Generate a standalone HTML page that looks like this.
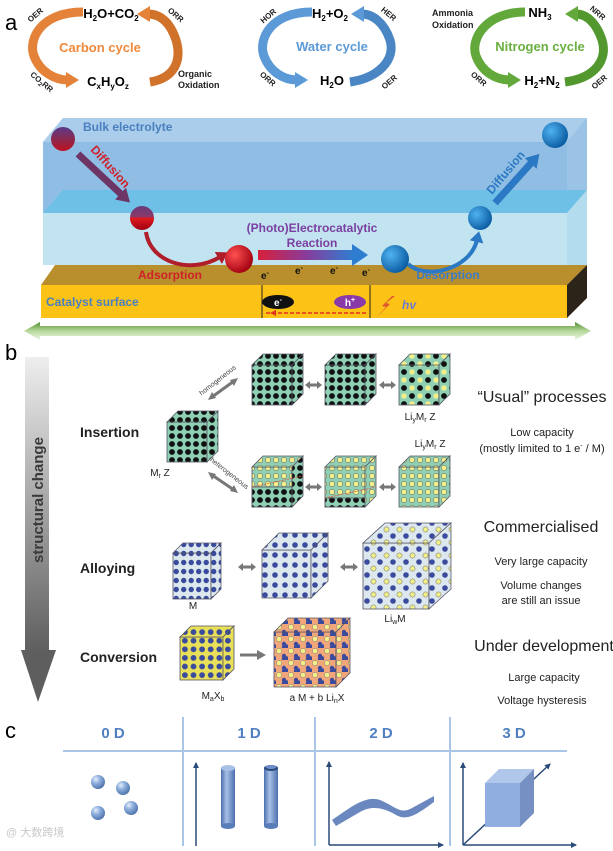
<!DOCTYPE html>
<html><head><meta charset="utf-8"><style>
html,body{margin:0;padding:0;background:#fff;}
svg{display:block;font-family:"Liberation Sans",Arial,sans-serif;}
</style></head><body>
<svg width="613" height="851" viewBox="0 0 613 851" xmlns="http://www.w3.org/2000/svg">
<defs>
<pattern id="dk" width="8" height="8" patternUnits="userSpaceOnUse"><rect width="8" height="8" fill="#8fd0b4"/><circle cx="4" cy="4" r="2.9" fill="#111"/></pattern>
<pattern id="yl" width="8" height="8" patternUnits="userSpaceOnUse"><rect width="8" height="8" fill="#8fd0b4"/><circle cx="4" cy="4" r="2.7" fill="#f3f08a" stroke="#556" stroke-width="0.5"/></pattern>
<pattern id="mx" width="16" height="16" patternUnits="userSpaceOnUse"><rect width="16" height="16" fill="#8fd0b4"/><circle cx="4" cy="4" r="2.9" fill="#111"/><circle cx="12" cy="4" r="2.7" fill="#f3f08a"/><circle cx="4" cy="12" r="2.7" fill="#f3f08a"/><circle cx="12" cy="12" r="2.9" fill="#111"/></pattern>
<pattern id="bl" width="7.5" height="9" patternUnits="userSpaceOnUse"><rect width="7.5" height="9" fill="#dde8ee"/><circle cx="3.7" cy="4.5" r="2.7" fill="#3a4a9c"/></pattern>
<pattern id="bl2" width="10" height="10" patternUnits="userSpaceOnUse"><rect width="10" height="10" fill="#dde8ee"/><circle cx="5" cy="5" r="2.8" fill="#3a4a9c"/></pattern>
<pattern id="lw" width="13" height="13" patternUnits="userSpaceOnUse"><rect width="13" height="13" fill="#dde8ee"/><circle cx="3" cy="3" r="2.8" fill="#3a4a9c"/><circle cx="9.5" cy="9.5" r="2.6" fill="#f3f08a" stroke="#666" stroke-width="0.5"/></pattern>
<pattern id="yw" width="8.6" height="8.6" patternUnits="userSpaceOnUse"><rect width="8.6" height="8.6" fill="#e9e05a"/><circle cx="4.3" cy="4.3" r="2.9" fill="#3a4a9c"/></pattern>
<pattern id="or" width="12" height="12" patternUnits="userSpaceOnUse"><rect width="12" height="12" fill="#f2a77a"/><circle cx="3" cy="3" r="2.6" fill="#f3f08a" stroke="#777" stroke-width="0.5"/><circle cx="8" cy="8" r="2.2" fill="#3a4a9c"/><circle cx="10.5" cy="10.5" r="2.2" fill="#3a4a9c"/><circle cx="8" cy="11" r="2.2" fill="#3a4a9c"/></pattern>
<linearGradient id="gv" x1="0" y1="0" x2="0" y2="1"><stop offset="0" stop-color="#eeeeee"/><stop offset="1" stop-color="#5e5e5e"/></linearGradient>
<linearGradient id="gg" x1="0" y1="0" x2="0" y2="1"><stop offset="0" stop-color="#4f8f2e"/><stop offset="0.5" stop-color="#b8d89c"/><stop offset="1" stop-color="#eef6e6"/></linearGradient>
<linearGradient id="rx" x1="0" y1="0" x2="1" y2="0"><stop offset="0" stop-color="#d8203a"/><stop offset="0.5" stop-color="#8a3b9a"/><stop offset="1" stop-color="#2e7dd0"/></linearGradient>
<radialGradient id="sr" cx="0.35" cy="0.35" r="0.7"><stop offset="0" stop-color="#ff5050"/><stop offset="1" stop-color="#a00010"/></radialGradient>
<radialGradient id="sb" cx="0.35" cy="0.35" r="0.7"><stop offset="0" stop-color="#4fb2f0"/><stop offset="1" stop-color="#0a5aa0"/></radialGradient>
<linearGradient id="sp" x1="0" y1="0" x2="0" y2="1"><stop offset="0" stop-color="#5a3a8a"/><stop offset="0.5" stop-color="#8a2a50"/><stop offset="1" stop-color="#c01020"/></linearGradient>
<linearGradient id="sm" x1="0" y1="0" x2="0" y2="1"><stop offset="0" stop-color="#6a3a7a"/><stop offset="0.45" stop-color="#8a3a6a"/><stop offset="0.5" stop-color="#e01a20"/><stop offset="1" stop-color="#a00010"/></linearGradient>
<radialGradient id="s0" cx="0.35" cy="0.3" r="0.75"><stop offset="0" stop-color="#e6eefb"/><stop offset="0.4" stop-color="#8fb0de"/><stop offset="1" stop-color="#4a6fa8"/></radialGradient>
<linearGradient id="cy" x1="0" y1="0" x2="1" y2="0"><stop offset="0" stop-color="#4c6fae"/><stop offset="0.4" stop-color="#a8c0e6"/><stop offset="1" stop-color="#4c6fae"/></linearGradient>
<marker id="ao" markerWidth="14" markerHeight="16" refX="2" refY="8" orient="auto" markerUnits="userSpaceOnUse"><path d="M0,0 L13,8 L0,16z" fill="#e4823a"/></marker>
<marker id="ab" markerWidth="14" markerHeight="16" refX="2" refY="8" orient="auto" markerUnits="userSpaceOnUse"><path d="M0,0 L13,8 L0,16z" fill="#5b9ad6"/></marker>
<marker id="ag" markerWidth="14" markerHeight="16" refX="2" refY="8" orient="auto" markerUnits="userSpaceOnUse"><path d="M0,0 L13,8 L0,16z" fill="#62a83a"/></marker>
<marker id="ad" markerWidth="12" markerHeight="14" refX="2" refY="7" orient="auto" markerUnits="userSpaceOnUse"><path d="M0,0 L11,7 L0,14z" fill="#b01e2a"/></marker>
<marker id="ap" markerWidth="14" markerHeight="16" refX="2" refY="8" orient="auto" markerUnits="userSpaceOnUse"><path d="M0,0 L13,8 L0,16z" fill="#6c3566"/></marker>
<marker id="ae" markerWidth="12" markerHeight="14" refX="2" refY="7" orient="auto" markerUnits="userSpaceOnUse"><path d="M0,0 L11,7 L0,14z" fill="#2b78c4"/></marker>
<marker id="ae2" markerWidth="14" markerHeight="16" refX="2" refY="8" orient="auto" markerUnits="userSpaceOnUse"><path d="M0,0 L13,8 L0,16z" fill="#2b78c4"/></marker>
<marker id="an" markerWidth="6" markerHeight="6" refX="5" refY="3" orient="auto" markerUnits="userSpaceOnUse"><path d="M0,0 L6,3 L0,6z" fill="#2a4a7a"/></marker>
</defs>
<rect width="613" height="851" fill="#fff"/>

<!-- ===== a: cycles ===== -->
<text x="5" y="30" font-size="22">a</text>
<g fill="none" stroke-width="9">
<path d="M83,12 C40,12 28,40 34,56 C40,72 55,80 68,80" stroke="#e4823a" marker-end="url(#ao)"/>
<path d="M150,82 C175,78 182,60 176,40 C170,22 160,14 148,14" stroke="#d0722a" marker-end="url(#ao)"/>
<path d="M312,12 C270,12 258,40 264,56 C270,72 284,80 297,80" stroke="#5b9ad6" marker-end="url(#ab)"/>
<path d="M350,82 C378,78 396,60 390,40 C384,22 372,14 362,14" stroke="#4a86c4" marker-end="url(#ab)"/>
<path d="M525,12 C485,12 470,40 476,56 C482,72 496,80 510,80" stroke="#62a83a" marker-end="url(#ag)"/>
<path d="M565,82 C595,78 608,60 602,40 C596,22 586,14 576,14" stroke="#52982e" marker-end="url(#ag)"/>
</g>
<g font-weight="bold" text-anchor="middle">
<text x="100" y="52" font-size="13" fill="#f08a3c">Carbon cycle</text>
<text x="332" y="51" font-size="13" fill="#5b9ad6">Water cycle</text>
<text x="540" y="51" font-size="13" fill="#6aaf3f">Nitrogen cycle</text>
<text x="111" y="18" font-size="13">H<tspan font-size="8" dy="3">2</tspan><tspan dy="-3">O+CO</tspan><tspan font-size="8" dy="3">2</tspan></text>
<text x="108" y="86" font-size="13">C<tspan font-size="8" dy="3">x</tspan><tspan dy="-3">H</tspan><tspan font-size="8" dy="3">y</tspan><tspan dy="-3">O</tspan><tspan font-size="8" dy="3">z</tspan></text>
<text x="330" y="18" font-size="13">H<tspan font-size="8" dy="3">2</tspan><tspan dy="-3">+O</tspan><tspan font-size="8" dy="3">2</tspan></text>
<text x="332" y="85" font-size="13">H<tspan font-size="8" dy="3">2</tspan><tspan dy="-3">O</tspan></text>
<text x="540" y="17" font-size="13">NH<tspan font-size="8" dy="3">3</tspan></text>
<text x="542" y="85" font-size="13">H<tspan font-size="8" dy="3">2</tspan><tspan dy="-3">+N</tspan><tspan font-size="8" dy="3">2</tspan></text>
</g>
<g font-size="8" font-weight="bold" text-anchor="middle" fill="#222">
<text transform="translate(37,17) rotate(-40)">OER</text>
<text transform="translate(174,17) rotate(40)">ORR</text>
<text transform="translate(40,84) rotate(40)">CO<tspan font-size="6" dy="2">2</tspan><tspan dy="-2">RR</tspan></text>
<text transform="translate(270,18) rotate(-40)">HOR</text>
<text transform="translate(387,16) rotate(40)">HER</text>
<text transform="translate(266,81) rotate(40)">ORR</text>
<text transform="translate(391,84) rotate(-40)">OER</text>
<text transform="translate(596,15) rotate(40)">NRR</text>
<text transform="translate(477,81) rotate(40)">ORR</text>
<text transform="translate(601,84) rotate(-40)">OER</text>
</g>
<g font-size="9" font-weight="bold" fill="#222">
<text x="178" y="77">Organic</text><text x="178" y="88">Oxidation</text>
<text x="432" y="16">Ammonia</text><text x="432" y="28">Oxidation</text>
</g>

<!-- ===== a: slab ===== -->
<polygon points="43,142 63,118 587,118 587,190 567,213 43,213" fill="#8fbde3"/>
<polygon points="43,142 63,118 587,118 567,142" fill="#a9cdea"/>
<polygon points="567,142 587,118 587,190 567,213" fill="#9ac3e6"/>
<polygon points="43,213 63,190 587,190 567,213" fill="#6ec0e6"/>
<rect x="43" y="213" width="524" height="52" fill="#c2e4f1"/>
<polygon points="567,213 587,190 587,265 567,285" fill="#b3dcee"/>
<polygon points="41,285 55,265 587,265 567,285" fill="#b88f2c"/>
<rect x="41" y="285" width="526" height="33" fill="#fcc316"/>
<polygon points="567,285 587,265 587,298 567,318" fill="#2c2418"/>
<line x1="262" y1="285" x2="262" y2="318" stroke="#222" stroke-width="1"/>
<line x1="370" y1="285" x2="370" y2="318" stroke="#222" stroke-width="1"/>
<line x1="266" y1="313" x2="368" y2="313" stroke="#e03020" stroke-width="1.5" stroke-dasharray="4,2"/>
<path d="M270,313 l6,-3 v6z" fill="#e03020"/>
<ellipse cx="278" cy="302" rx="16" ry="7" fill="#111"/>
<text x="278" y="306" font-size="10" font-weight="bold" fill="#fff" text-anchor="middle">e<tspan font-size="7" dy="-4">-</tspan></text>
<ellipse cx="350" cy="302" rx="16" ry="7" fill="#8a3aa8"/>
<text x="350" y="306" font-size="10" font-weight="bold" fill="#fff" text-anchor="middle">h<tspan font-size="7" dy="-4">+</tspan></text>
<polygon points="392,296 382,306 386,307 376,318 390,304 386,303 395,296" fill="#e05a30"/>
<text x="402" y="309" font-size="12" font-style="italic" font-weight="bold" fill="#6a7ad0">hv</text>
<text x="46" y="306" font-size="12" font-weight="bold" fill="#4a7fc0">Catalyst surface</text>

<!-- arrows -->
<line x1="78" y1="154" x2="122" y2="195" stroke="#6c3566" stroke-width="7" marker-end="url(#ap)"/>
<line x1="495" y1="203" x2="532" y2="162" stroke="#2b78c4" stroke-width="7" marker-end="url(#ae2)"/>
<rect x="258" y="250" width="95" height="10" fill="url(#rx)"/>
<path d="M352,244 L368,255 L352,266z" fill="#2e7dd0"/>
<path d="M146,232 C150,262 190,275 220,257" fill="none" stroke="#b01e2a" stroke-width="4" marker-end="url(#ad)"/>
<path d="M408,264 C425,280 470,270 477,240" fill="none" stroke="#2b78c4" stroke-width="4" marker-end="url(#ae)"/>

<circle cx="63" cy="139" r="12" fill="url(#sp)"/>
<circle cx="142" cy="218" r="12" fill="url(#sm)"/>
<circle cx="239" cy="259" r="14" fill="url(#sr)"/>
<circle cx="395" cy="259" r="14" fill="url(#sb)"/>
<circle cx="480" cy="218" r="12" fill="url(#sb)"/>
<circle cx="555" cy="135" r="13" fill="url(#sb)"/>

<g font-weight="bold">
<text x="83" y="131" font-size="12" fill="#4a7fc0">Bulk electrolyte</text>
<text transform="translate(90,150) rotate(48)" font-size="12" fill="#d0202a">Diffusion</text>
<text transform="translate(492,195) rotate(-50)" font-size="12" fill="#2b78c4">Diffusion</text>
<text x="312" y="232" font-size="12" fill="#7a3fa0" text-anchor="middle">(Photo)Electrocatalytic</text>
<text x="312" y="247" font-size="12" fill="#7a3fa0" text-anchor="middle">Reaction</text>
<text x="170" y="279" font-size="12" fill="#d0202a" text-anchor="middle">Adsorption</text>
<text x="448" y="279" font-size="12" fill="#3b7cc8" text-anchor="middle">Desorption</text>
<g font-size="10" fill="#111" text-anchor="middle">
<text x="265" y="279">e<tspan font-size="7" dy="-4">-</tspan></text>
<text x="299" y="274">e<tspan font-size="7" dy="-4">-</tspan></text>
<text x="334" y="274">e<tspan font-size="7" dy="-4">-</tspan></text>
<text x="366" y="276">e<tspan font-size="7" dy="-4">-</tspan></text>
</g>
</g>

<!-- green double arrow -->
<polygon points="24,331 40,322 40,326 575,326 575,322 591,331 575,340 575,336 40,336 40,340" fill="url(#gg)"/>

<!-- ===== b ===== -->
<text x="5" y="360" font-size="22">b</text>
<rect x="25" y="357" width="24" height="295" fill="url(#gv)"/>
<polygon points="21,650 56,650 38,702" fill="#5e5e5e"/>
<text transform="translate(43,500) rotate(-90)" font-size="15" font-weight="bold" fill="#3a3a3a" text-anchor="middle">structural change</text>

<g font-size="14" font-weight="bold" fill="#222">
<text x="80" y="437">Insertion</text>
<text x="80" y="573">Alloying</text>
<text x="80" y="662">Conversion</text>
</g>

<g stroke="#556" stroke-width="0.8">
<rect x="167" y="422" width="40" height="40" fill="url(#dk)"/>
<polygon points="167,422 178,411 218,411 207,422" fill="url(#dk)"/>
<polygon points="207,422 218,411 218,451 207,462" fill="url(#dk)"/>
<rect x="252" y="365" width="40" height="40" fill="url(#dk)"/>
<polygon points="252,365 263,354 303,354 292,365" fill="url(#dk)"/>
<polygon points="292,365 303,354 303,394 292,405" fill="url(#dk)"/>
<rect x="325" y="365" width="40" height="40" fill="url(#dk)"/>
<polygon points="325,365 336,354 376,354 365,365" fill="url(#dk)"/>
<polygon points="365,365 376,354 376,394 365,405" fill="url(#dk)"/>
<rect x="399" y="365" width="40" height="40" fill="url(#mx)"/>
<polygon points="399,365 410,354 450,354 439,365" fill="url(#mx)"/>
<polygon points="439,365 450,354 450,394 439,405" fill="url(#mx)"/>
<rect x="252" y="467" width="40" height="40" fill="url(#yl)"/>
<rect x="252" y="487" width="40" height="20" fill="url(#dk)"/>
<polygon points="252,467 263,456 303,456 292,467" fill="url(#yl)"/>
<polygon points="292,467 303,456 303,496 292,507" fill="url(#dk)"/>
<rect x="325" y="467" width="40" height="40" fill="url(#yl)"/>
<rect x="325" y="498" width="40" height="9" fill="url(#dk)"/>
<polygon points="325,467 336,456 376,456 365,467" fill="url(#yl)"/>
<polygon points="365,467 376,456 376,496 365,507" fill="url(#yl)"/>
<rect x="399" y="467" width="40" height="40" fill="url(#yl)"/>
<polygon points="399,467 410,456 450,456 439,467" fill="url(#yl)"/>
<polygon points="439,467 450,456 450,496 439,507" fill="url(#yl)"/>
<rect x="173" y="553" width="38" height="46" fill="url(#bl)"/>
<polygon points="173,553 183,543 221,543 211,553" fill="url(#bl)"/>
<polygon points="211,553 221,543 221,589 211,599" fill="url(#bl)"/>
<rect x="262" y="550" width="49" height="48" fill="url(#bl2)"/>
<polygon points="262,550 279,533 328,533 311,550" fill="url(#bl2)"/>
<polygon points="311,550 328,533 328,581 311,598" fill="url(#bl2)"/>
<rect x="363" y="543" width="66" height="66" fill="url(#lw)"/>
<polygon points="363,543 385,523 451,523 429,543" fill="url(#lw)"/>
<polygon points="429,543 451,523 451,589 429,609" fill="url(#lw)"/>
<rect x="180" y="637" width="43" height="43" fill="url(#yw)"/>
<polygon points="180,637 191,626 234,626 223,637" fill="url(#yw)"/>
<polygon points="223,637 234,626 234,669 223,680" fill="url(#yw)"/>
<rect x="274" y="632" width="62" height="55" fill="url(#or)"/>
<polygon points="274,632 288,618 350,618 336,632" fill="url(#or)"/>
<polygon points="336,632 350,618 350,673 336,687" fill="url(#or)"/>
</g>
<line x1="252" y1="487" x2="303" y2="476" stroke="#e05a3a" stroke-width="0.8" stroke-dasharray="2,1"/>
<line x1="325" y1="498" x2="376" y2="487" stroke="#e05a3a" stroke-width="0.8" stroke-dasharray="2,1"/>

<g stroke="#777" stroke-width="3" fill="none">
<line x1="212" y1="397" x2="234" y2="381"/>
<line x1="212" y1="475" x2="234" y2="490"/>
<line x1="309" y1="385" x2="318" y2="385"/><line x1="383" y1="385" x2="392" y2="385"/>
<line x1="309" y1="487" x2="318" y2="487"/><line x1="383" y1="487" x2="392" y2="487"/>
<line x1="242" y1="567" x2="252" y2="567"/><line x1="344" y1="567" x2="354" y2="567"/>
<line x1="240" y1="655" x2="258" y2="655"/>
</g>
<g fill="#777">
<polygon points="208,400 212,392 216,398"/><polygon points="238,378 230,380 234,386"/>
<polygon points="208,472 216,474 212,480"/><polygon points="238,493 234,485 230,491"/>
<polygon points="305,385 310,381 310,389"/><polygon points="322,385 317,381 317,389"/>
<polygon points="379,385 384,381 384,389"/><polygon points="396,385 391,381 391,389"/>
<polygon points="305,487 310,483 310,491"/><polygon points="322,487 317,483 317,491"/>
<polygon points="379,487 384,483 384,491"/><polygon points="396,487 391,483 391,491"/>
<polygon points="238,567 243,563 243,571"/><polygon points="256,567 251,563 251,571"/>
<polygon points="340,567 345,563 345,571"/><polygon points="358,567 353,563 353,571"/>
<polygon points="266,655 257,650 257,660"/>
</g>
<g font-size="7" fill="#444" text-anchor="middle">
<text transform="translate(219,382) rotate(-38)">homogeneous</text>
<text transform="translate(228,475) rotate(38)">heterogeneous</text>
</g>
<g font-size="10" fill="#222" text-anchor="middle">
<text x="420" y="420">Li<tspan font-size="7" dy="2">y</tspan><tspan dy="-2">M</tspan><tspan font-size="7" dy="2">r</tspan><tspan dy="-2"> Z</tspan></text>
<text x="430" y="447">Li<tspan font-size="7" dy="2">y</tspan><tspan dy="-2">M</tspan><tspan font-size="7" dy="2">r</tspan><tspan dy="-2"> Z</tspan></text>
<text x="160" y="476">M<tspan font-size="7" dy="2">r</tspan><tspan dy="-2"> Z</tspan></text>
<text x="193" y="609">M</text>
<text x="395" y="622">Li<tspan font-size="7" dy="2">w</tspan><tspan dy="-2">M</tspan></text>
<text x="213" y="699">M<tspan font-size="7" dy="2">a</tspan><tspan dy="-2">X</tspan><tspan font-size="7" dy="2">b</tspan></text>
<text x="317" y="701">a M + b Li<tspan font-size="7" dy="2">n</tspan><tspan dy="-2">X</tspan></text>
</g>
<g fill="#222" text-anchor="middle">
<text x="542" y="402" font-size="16">“Usual” processes</text>
<text x="542" y="436" font-size="11">Low capacity</text>
<text x="542" y="452" font-size="11">(mostly limited to 1 e<tspan font-size="7" dy="-4">-</tspan><tspan dy="4"> / M)</tspan></text>
<text x="541" y="532" font-size="16">Commercialised</text>
<text x="541" y="565" font-size="11">Very large capacity</text>
<text x="541" y="589" font-size="11">Volume changes</text>
<text x="541" y="604" font-size="11">are still an issue</text>
<text x="544" y="651" font-size="16">Under development</text>
<text x="544" y="681" font-size="11">Large capacity</text>
<text x="542" y="704" font-size="11">Voltage hysteresis</text>
</g>

<!-- ===== c ===== -->
<text x="5" y="738" font-size="22">c</text>
<g stroke="#a9c6e6" stroke-width="2">
<line x1="63" y1="751" x2="567" y2="751"/>
<line x1="183" y1="717" x2="183" y2="846"/>
<line x1="315" y1="717" x2="315" y2="846"/>
<line x1="450" y1="717" x2="450" y2="846"/>
</g>
<g font-size="15" font-weight="bold" fill="#4f7fc0" text-anchor="middle">
<text x="113" y="738">0 D</text><text x="249" y="738">1 D</text><text x="381" y="738">2 D</text><text x="514" y="738">3 D</text>
</g>
<circle cx="98" cy="782" r="7" fill="url(#s0)"/>
<circle cx="123" cy="788" r="7" fill="url(#s0)"/>
<circle cx="98" cy="813" r="7" fill="url(#s0)"/>
<circle cx="131" cy="808" r="7" fill="url(#s0)"/>
<g stroke="#2a4a7a" stroke-width="1.5" fill="none">
<line x1="196" y1="846" x2="196" y2="763" marker-end="url(#an)"/>
<line x1="329" y1="845" x2="329" y2="762" marker-end="url(#an)"/>
<line x1="329" y1="845" x2="443" y2="845" marker-end="url(#an)"/>
<line x1="463" y1="845" x2="463" y2="763" marker-end="url(#an)"/>
<line x1="463" y1="845" x2="576" y2="845" marker-end="url(#an)"/>
<line x1="463" y1="845" x2="550" y2="764" marker-end="url(#an)"/>
</g>
<rect x="221" y="768" width="14" height="58" fill="url(#cy)"/>
<ellipse cx="228" cy="768" rx="7" ry="3" fill="#a8c0e6"/>
<ellipse cx="228" cy="826" rx="7" ry="3" fill="#5a7cb8"/>
<rect x="264" y="768" width="14" height="58" fill="url(#cy)"/>
<ellipse cx="271" cy="768" rx="7" ry="3" fill="#2a4a7a"/>
<ellipse cx="271" cy="767" rx="5.5" ry="2" fill="#6a8cc8"/>
<ellipse cx="271" cy="826" rx="7" ry="3" fill="#5a7cb8"/>
<path d="M332,820 C350,808 365,795 380,800 C395,806 400,815 412,808 L434,796 L434,802 C420,812 408,822 396,815 C384,808 372,805 360,812 L336,826z" fill="#6a88bf"/>
<polygon points="485,783 499,769 534,769 520,783" fill="#b0c6ea"/>
<rect x="485" y="783" width="35" height="44" fill="#90aee0"/>
<polygon points="520,783 534,769 534,813 520,827" fill="#7690c4"/>
<text x="6" y="836" font-size="11" fill="#c8c8c8">@ 大数跨境</text>
</svg>
</body></html>
